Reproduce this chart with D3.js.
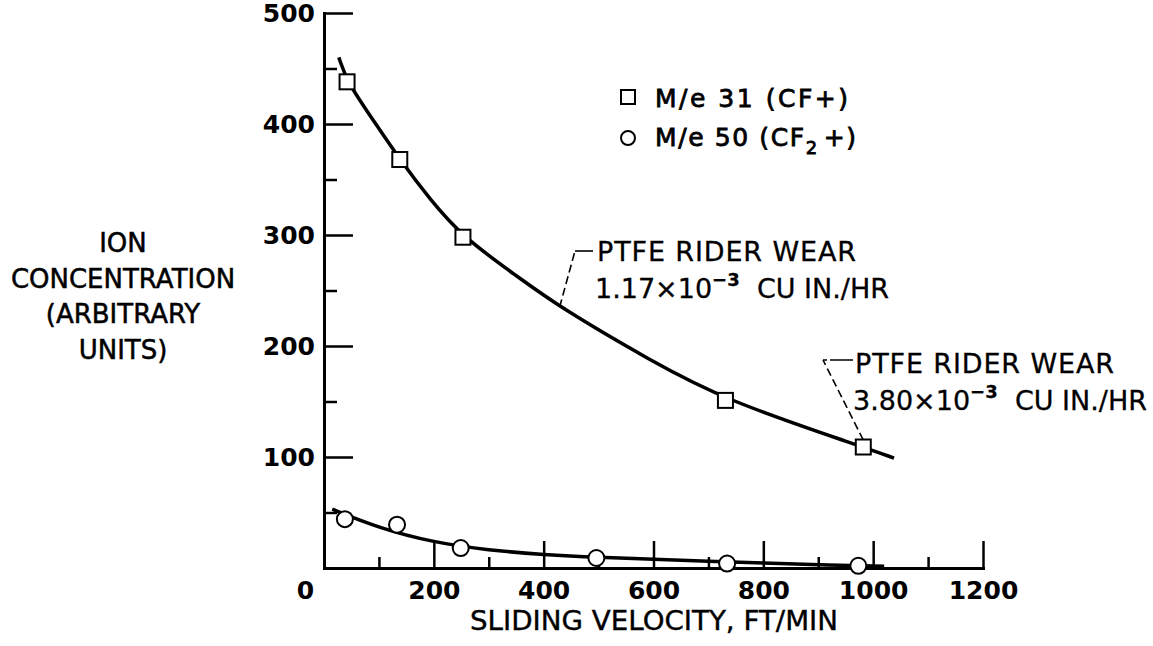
<!DOCTYPE html>
<html>
<head>
<meta charset="utf-8">
<script src="https://cdn.jsdelivr.net/npm/d3@7/dist/d3.min.js"></script>
<style>
body { margin: 0; background: #fff; }
svg text { font-family: "DejaVu Sans", sans-serif; fill: #000; }
</style>
</head>
<body>
<svg id="chart" width="1153" height="646"></svg>
<script>
// values
var sq_x = [42, 138, 253, 731, 982];          // M/e 31 (CF+)
var sq_y = [438, 368, 298, 151, 109];
var circ_x = [38, 133, 249, 496, 734, 973];   // M/e 50 (CF2+)
var circ_y = [44, 39, 18, 9, 4, 2];

// faired curves as drawn in the figure
var fit31_x = [27, 42, 89, 138, 193, 253, 351, 429, 594, 731, 982, 1038];
var fit31_y = [460, 438, 404, 368, 332, 298, 263, 235, 187, 151, 109, 99];
var fit50_x = [15, 100, 200, 300, 400, 500, 600, 700, 800, 900, 1020];
var fit50_y = [53, 36, 23, 16, 12, 9.5, 8, 6, 4.5, 3, 1.5];

var x_major = [0, 200, 400, 600, 800, 1000, 1200];
var x_minor = [100, 300, 500, 700, 900, 1100];
var y_major = [100, 200, 300, 400, 500];
var y_minor = [50, 150, 250, 350, 450];

var y_title = ["ION", "CONCENTRATION", "(ARBITRARY", "UNITS)"];
var x_title = "SLIDING VELOCITY, FT/MIN";

var svg = d3.select("#chart");

var x = d3.scaleLinear().domain([0, 1200]).range([324, 983]);
var y = d3.scaleLinear().domain([0, 500]).range([568, 13]);

function style_axis(g, domain_on){
    g.selectAll(".tick line").attr("stroke", "#000").attr("stroke-width", 2.5);
    if(domain_on){
        g.select(".domain").attr("stroke", "#000").attr("stroke-width", 3)
            .attr("stroke-linecap", "square");
    } else {
        g.select(".domain").remove();
    }
    g.selectAll(".tick text")
        .attr("fill", "#000")
        .style("font-family", "DejaVu Sans")
        .style("font-size", "25px")
        .style("font-weight", "bold");
}

// x axis, ticks point up into the plot
svg.append("g")
    .attr("transform", "translate(0," + y(0) + ")")
    .call(d3.axisBottom(x).tickValues(x_minor).tickSize(-11).tickSizeOuter(0).tickFormat(""))
    .call(function(g){ style_axis(g, false); });

var gx = svg.append("g")
    .attr("transform", "translate(0," + y(0) + ")")
    .call(d3.axisBottom(x).tickValues(x_major).tickSize(-27).tickSizeOuter(0).tickPadding(13)
        .tickFormat(d3.format("d")))
    .call(function(g){ style_axis(g, true); });
gx.selectAll(".tick text").filter(function(d){ return d === 0; }).attr("x", -19);

// y axis, ticks point right
svg.append("g")
    .attr("transform", "translate(" + x(0) + ",0)")
    .call(d3.axisLeft(y).tickValues(y_minor).tickSize(-13).tickSizeOuter(0).tickFormat(""))
    .call(function(g){ style_axis(g, false); });

svg.append("g")
    .attr("transform", "translate(" + x(0) + ",0)")
    .call(d3.axisLeft(y).tickValues(y_major).tickSize(-29).tickSizeOuter(0).tickPadding(9)
        .tickFormat(d3.format("d")))
    .call(function(g){ style_axis(g, true); });

// axis titles
svg.append("text")
    .attr("x", 470).attr("y", 630)
    .attr("textLength", 368).attr("lengthAdjust", "spacingAndGlyphs")
    .style("font-size", "27px")
    .attr("stroke", "#000").attr("stroke-width", 0.4)
    .text(x_title);

svg.append("g").selectAll("text")
    .data(y_title)
    .join("text")
    .attr("x", 123)
    .attr("y", function(d, i){ return 252 + i * 35.7; })
    .attr("text-anchor", "middle")
    .style("font-size", "26px")
    .attr("stroke", "#000").attr("stroke-width", 0.5)
    .text(function(d){ return d; });

// curves (smoothed through the read points)
var line = d3.line()
    .x(function(d){ return x(d[0]); })
    .y(function(d){ return y(d[1]); })
    .curve(d3.curveBasis);

svg.append("path")
    .datum(d3.zip(fit31_x, fit31_y))
    .attr("d", line)
    .attr("fill", "none").attr("stroke", "#000").attr("stroke-width", 3.5);

svg.append("path")
    .datum(d3.zip(fit50_x, fit50_y))
    .attr("d", line)
    .attr("fill", "none").attr("stroke", "#000").attr("stroke-width", 3.5);

// annotation leaders
var dash = "8,4";
svg.append("path")
    .attr("d", "M" + x(429) + "," + y(235) + "L575,251")
    .attr("fill", "none").attr("stroke", "#000").attr("stroke-width", 1.6)
    .attr("stroke-dasharray", dash);
svg.append("path")
    .attr("d", "M575,251H593")
    .attr("stroke", "#000").attr("stroke-width", 1.6);

svg.append("path")
    .attr("d", "M" + x(982) + "," + (y(109) - 7) + "L823,360")
    .attr("fill", "none").attr("stroke", "#000").attr("stroke-width", 1.6)
    .attr("stroke-dasharray", dash);
svg.append("path")
    .attr("d", "M823,360H853")
    .attr("stroke", "#000").attr("stroke-width", 1.6)
    .attr("stroke-dasharray", "4,3,30");

// markers
svg.append("g").selectAll("rect")
    .data(d3.zip(sq_x, sq_y))
    .join("rect")
    .attr("x", function(d){ return x(d[0]) - 7.5; })
    .attr("y", function(d){ return y(d[1]) - 7.5; })
    .attr("width", 15).attr("height", 15)
    .attr("fill", "#fff").attr("stroke", "#000").attr("stroke-width", 2);

svg.append("g").selectAll("circle")
    .data(d3.zip(circ_x, circ_y))
    .join("circle")
    .attr("cx", function(d){ return x(d[0]); })
    .attr("cy", function(d){ return y(d[1]); })
    .attr("r", 8)
    .attr("fill", "#fff").attr("stroke", "#000").attr("stroke-width", 2);

// legend
svg.append("rect")
    .attr("x", 621).attr("y", 90).attr("width", 14).attr("height", 14)
    .attr("fill", "#fff").attr("stroke", "#000").attr("stroke-width", 2);
svg.append("circle")
    .attr("cx", 628).attr("cy", 138).attr("r", 7)
    .attr("fill", "#fff").attr("stroke", "#000").attr("stroke-width", 2);

svg.append("text")
    .attr("x", 655).attr("y", 107)
    .attr("textLength", 193).attr("lengthAdjust", "spacing")
    .style("font-size", "25px")
    .attr("stroke", "#000").attr("stroke-width", 0.8)
    .text("M/e  31 (CF+)");

var leg2 = svg.append("text")
    .attr("x", 655).attr("y", 146)
    .style("font-size", "25px")
    .style("letter-spacing", "1.6px")
    .attr("stroke", "#000").attr("stroke-width", 0.8);
leg2.append("tspan").text("M/e  50 (CF");
leg2.append("tspan").attr("dy", 8).style("font-size", "18px").text("2");
leg2.append("tspan").attr("dy", -8).attr("dx", 5).text("+)");

// wear annotations
function wear_note(x0, y0, rate){
    svg.append("text")
        .attr("x", x0).attr("y", y0)
        .attr("textLength", 259).attr("lengthAdjust", "spacing")
        .style("font-size", "27px")
        .attr("stroke", "#000").attr("stroke-width", 0.3)
        .text("PTFE RIDER WEAR");
    var t2 = svg.append("text")
        .attr("x", x0 - 2).attr("y", y0 + 37)
        .style("font-size", "27px")
        .attr("stroke", "#000").attr("stroke-width", 0.3);
    t2.append("tspan").text(rate + "\u00d710");
    t2.append("tspan").attr("dy", -12).style("font-size", "18px").style("font-weight", "bold").text("\u22123");
    t2.append("tspan").attr("dy", 12).text("\u00a0 CU IN./HR");
}
wear_note(597, 261, "1.17");
wear_note(855, 373, "3.80");
</script>
</body>
</html>
